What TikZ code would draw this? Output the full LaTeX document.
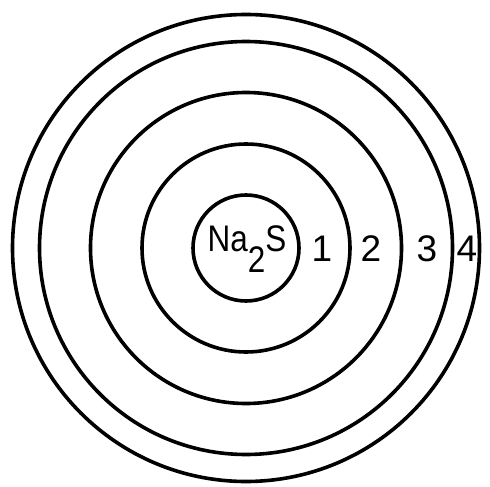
\documentclass[tikz,border=0pt]{standalone}
\usepackage{fontspec}
\setmainfont{Liberation Sans}
\begin{document}
\begin{tikzpicture}[x=1pt,y=-1pt,
  ring/.style={circle, draw, line width=3.6pt, inner sep=0pt},
  lbl/.style={font=\fontsize{37}{37}\selectfont, inner sep=0pt}]
\useasboundingbox (0,0) rectangle (490,487);
\fill[white] (0,0) rectangle (490,487);
\coordinate (c) at (246,248);
\node[ring, minimum size=106pt] (r0) at (c) {};
\node[ring, minimum size=208pt] (r1) at (c) {};
\node[ring, minimum size=311pt] (r2) at (c) {};
\node[ring, minimum size=413pt] (r3) at (c) {};
\node[ring, minimum size=467pt] (r4) at (c) {};
\node[lbl] (na2s) at (247,249) {\scalebox{0.85}[1]{Na\raisebox{-0.55em}{2}S}};
\node[lbl] (l1) at (322,249) {1};
\node[lbl] (l2) at (371,249) {2};
\node[lbl] (l3) at (427,249) {3};
\node[lbl] (l4) at (467,249) {4};
\end{tikzpicture}
\end{document}
